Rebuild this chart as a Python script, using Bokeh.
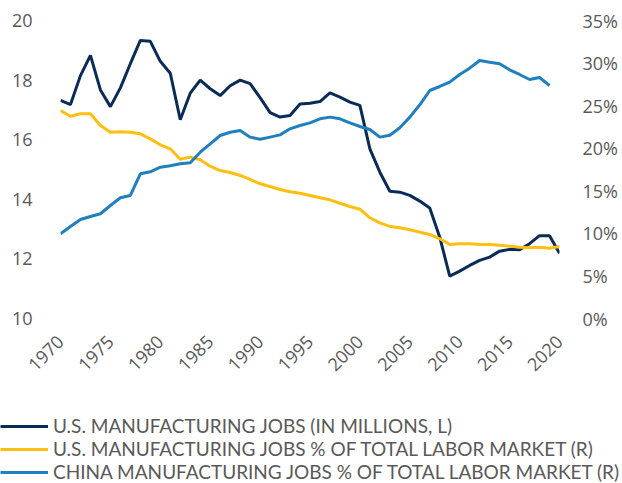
import math
from bokeh.plotting import figure
from bokeh.layouts import column, row
from bokeh.models import (Range1d, LinearAxis, FixedTicker, PrintfTickFormatter,
                          Legend, LegendItem)
from bokeh.embed import file_html
from bokeh.resources import INLINE

years = list(range(1970, 2021))
us_jobs = [17.32, 17.18, 18.15, 18.83, 17.67, 17.11, 17.74, 18.55, 19.33, 19.30,
           18.63, 18.23, 16.67, 17.56, 18.00, 17.71, 17.48, 17.81, 18.00, 17.88,
           17.41, 16.91, 16.76, 16.81, 17.20, 17.22, 17.28, 17.57, 17.43, 17.26,
           17.15, 15.69, 14.91, 14.27, 14.24, 14.13, 13.94, 13.71, 12.73, 11.42,
           11.59, 11.78, 11.95, 12.06, 12.26, 12.32, 12.31, 12.51, 12.78, 12.78,
           12.19]
us_pct = [24.43, 23.76, 24.04, 24.04, 22.67, 21.88, 21.93, 21.88, 21.69, 21.10,
          20.40, 19.93, 18.71, 18.95, 18.64, 17.89, 17.38, 17.15, 16.80, 16.33,
          15.82, 15.50, 15.15, 14.88, 14.72, 14.45, 14.18, 13.94, 13.54, 13.15,
          12.84, 11.83, 11.24, 10.81, 10.65, 10.42, 10.14, 9.87, 9.36, 8.69,
          8.77, 8.77, 8.69, 8.69, 8.61, 8.50, 8.38, 8.30, 8.38, 8.26,
          8.46]
china_years = list(range(1970, 2020))
china_pct = [9.95, 10.80, 11.63, 11.98, 12.30, 13.27, 14.18, 14.45, 17.00, 17.23,
             17.77, 17.93, 18.17, 18.29, 19.53, 20.52, 21.49, 21.88, 22.08, 21.30,
             21.06, 21.30, 21.57, 22.28, 22.67, 22.98, 23.45, 23.65, 23.45, 22.98,
             22.55, 22.20, 21.30, 21.53, 22.40, 23.65, 25.10, 26.78, 27.25, 27.76,
             28.66, 29.40, 30.30, 30.10, 29.92, 29.21, 28.66, 28.07, 28.31, 27.37]

left_ticks = [10, 12, 14, 16, 18, 20]
right_ticks = [0, 5, 10, 15, 20, 25, 30, 35]
x_ticks = [1970, 1975, 1980, 1985, 1990, 1995, 2000, 2005, 2010, 2015, 2020]

labels = ["U.S. MANUFACTURING JOBS (IN MILLIONS, L)",
          "U.S. MANUFACTURING JOBS % OF TOTAL LABOR MARKET (R)",
          "CHINA MANUFACTURING JOBS % OF TOTAL LABOR MARKET (R)"]

NAVY = "#0B2B57"
GOLD = "#FFBF0F"
BLUE = "#1F80BD"
GRAY = "#595959"
FONT = "Open Sans"
colors = [NAVY, GOLD, BLUE]

W = 622
p = figure(width=W, height=400, output_backend="svg", toolbar_location=None,
           x_range=Range1d(1970, 2020), y_range=Range1d(10, 20),
           min_border_left=60, min_border_right=63, min_border_top=20,
           min_border_bottom=82)
p.outline_line_color = None
p.grid.visible = False
p.background_fill_color = None

p.extra_y_ranges = {"pct": Range1d(0, 35)}
raxis = LinearAxis(y_range_name="pct")
p.add_layout(raxis, "right")

for ax in [p.xaxis[0], p.yaxis[0], raxis]:
    ax.axis_line_color = None
    ax.major_tick_line_color = None
    ax.minor_tick_line_color = None
    ax.major_tick_in = 0
    ax.major_tick_out = 0
    ax.minor_tick_in = 0
    ax.minor_tick_out = 0
    ax.major_label_text_color = GRAY
    ax.major_label_text_font = FONT
    ax.major_label_text_font_size = "18px"

p.yaxis[0].ticker = FixedTicker(ticks=left_ticks)
p.yaxis[0].major_label_standoff = 28
raxis.ticker = FixedTicker(ticks=right_ticks)
raxis.formatter = PrintfTickFormatter(format="%d%%")
raxis.major_label_standoff = 23
p.xaxis[0].ticker = FixedTicker(ticks=x_ticks)
p.xaxis[0].formatter = PrintfTickFormatter(format="%d")
p.xaxis[0].major_label_orientation = math.pi / 4
p.xaxis[0].major_label_standoff = 20

p.line(years, us_jobs, line_color=NAVY, line_width=3)
p.line(years, us_pct, line_color=GOLD, line_width=3, y_range_name="pct")
p.line(china_years, china_pct, line_color=BLUE, line_width=3, y_range_name="pct")

# legend panel below the chart (its own small figure, full-width frame)
lg = figure(width=W, height=83, output_backend="svg", toolbar_location=None,
            x_range=Range1d(0, 1), y_range=Range1d(0, 1),
            min_border=0, min_border_left=0, min_border_right=0,
            min_border_top=0, min_border_bottom=0,
            x_axis_location=None, y_axis_location=None)
lg.outline_line_color = None
lg.grid.visible = False
items = []
for lab, col in zip(labels, colors):
    r = lg.line([5, 6], [5, 6], line_color=col, line_width=3)
    items.append(LegendItem(label=lab, renderers=[r]))
legend = Legend(items=items, location="bottom_left", orientation="vertical",
                glyph_width=48, glyph_height=22, label_height=22,
                label_standoff=5, spacing=-3, padding=0, margin=0,
                border_line_color=None, background_fill_alpha=0,
                label_text_font="Lato", label_text_font_size="19px",
                label_text_color=GRAY)
lg.add_layout(legend)

layout = column(p, row(lg, spacing=0), spacing=0)
open("out.html", "w").write(file_html(layout, INLINE))
